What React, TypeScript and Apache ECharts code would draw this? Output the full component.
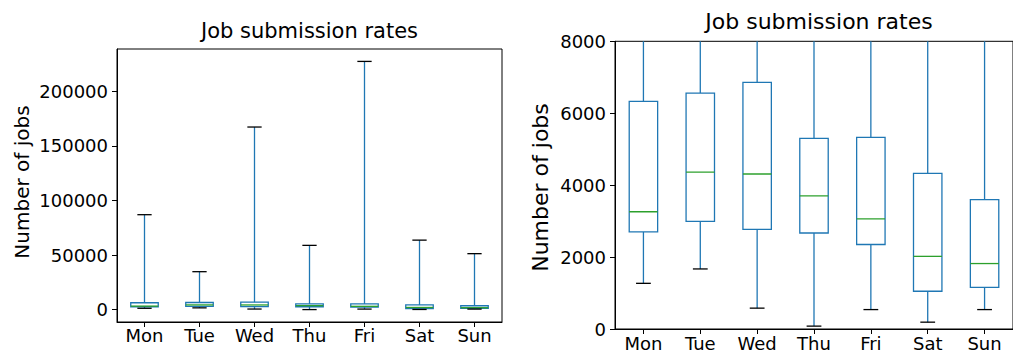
import React, { useEffect, useRef } from "react";
import * as echarts from "echarts";

const categories = ["Mon", "Tue", "Wed", "Thu", "Fri", "Sat", "Sun"];
const lowWhisker = [1270, 1670, 580, 80, 540, 190, 540];
const q1 = [2700, 2990, 2770, 2670, 2350, 1050, 1160];
const median = [3260, 4360, 4310, 3700, 3060, 2020, 1820];
const q3 = [6330, 6560, 6860, 5300, 5330, 4330, 3600];
const highWhisker = [87000, 34800, 167300, 58900, 227400, 63700, 51300];

const leftTicks = [0, 50000, 100000, 150000, 200000];
const rightTicks = [0, 2000, 4000, 6000, 8000];
const title = "Job submission rates";
const yName = "Number of jobs";

const FONT = "'DejaVu Sans', sans-serif";
const BLUE = "#1f77b4";
const GREEN = "#2ca02c";
const LW = 1.3;

function renderBox(params: any, api: any) {
  const idx = api.value(0);
  const lo = api.value(1);
  const a = api.value(2);
  const m = api.value(3);
  const b = api.value(4);
  const hi = api.value(5);
  const band = api.size([1, 0])[0];
  const half = band * 0.25;
  const capHalf = band * 0.13;
  const pLo = api.coord([idx, lo]);
  const pA = api.coord([idx, a]);
  const pM = api.coord([idx, m]);
  const pB = api.coord([idx, b]);
  const pHi = api.coord([idx, hi]);
  const x = pA[0];
  const blue = { stroke: BLUE, lineWidth: LW, fill: null };
  return {
    type: "group",
    children: [
      { type: "line", shape: { x1: x, y1: pB[1], x2: x, y2: pHi[1] }, style: blue },
      { type: "line", shape: { x1: x, y1: pLo[1], x2: x, y2: pA[1] }, style: blue },
      {
        type: "rect",
        shape: { x: x - half, y: pB[1], width: half * 2, height: pA[1] - pB[1] },
        style: { stroke: BLUE, lineWidth: LW, fill: "none" },
      },
      { type: "line", shape: { x1: x - half, y1: pM[1], x2: x + half, y2: pM[1] }, style: { stroke: GREEN, lineWidth: LW } },
      { type: "line", shape: { x1: x - capHalf, y1: pHi[1], x2: x + capHalf, y2: pHi[1] }, style: { stroke: "#000", lineWidth: LW } },
      { type: "line", shape: { x1: x - capHalf, y1: pLo[1], x2: x + capHalf, y2: pLo[1] }, style: { stroke: "#000", lineWidth: LW } },
    ],
  };
}

export default function App() {
  const ref = useRef<HTMLDivElement>(null);
  useEffect(() => {
    if (!ref.current) return;
    const chart = echarts.init(ref.current, null, { renderer: "svg" });
    const data = categories.map((c, i) => [i, lowWhisker[i], q1[i], median[i], q3[i], highWhisker[i]]);
    const xAxisCommon = (gi: number, margin: number) => ({
      type: "category",
      gridIndex: gi,
      data: categories,
      boundaryGap: true,
      axisLine: { show: true, onZero: false, lineStyle: { color: "#000", width: 1 } },
      axisTick: { show: true, alignWithLabel: true, length: 5, lineStyle: { color: "#000" } },
      axisLabel: { color: "#000", fontSize: 18, fontFamily: FONT, margin },
      splitLine: { show: false },
    });
    const fmt = (v: number) => String(v);
    chart.setOption({
      animation: false,
      grid: [
        { left: 117, top: 49, width: 385, height: 273, show: true, borderColor: "#000", borderWidth: 1, backgroundColor: "transparent" },
        { left: 615, top: 41.3, width: 408, height: 287.7, show: true, borderColor: "#000", borderWidth: 1, backgroundColor: "transparent" },
      ],
      xAxis: [xAxisCommon(0, 4), xAxisCommon(1, 5)],
      yAxis: [
        {
          type: "value",
          gridIndex: 0,
          min: -11290,
          max: 238770,
          axisLine: { show: true, onZero: false, lineStyle: { color: "#000" } },
          axisTick: { show: true, length: 5, lineStyle: { color: "#000" }, customValues: leftTicks },
          axisLabel: { color: "#000", fontSize: 18, fontFamily: FONT, margin: 9, customValues: leftTicks, formatter: fmt },
          splitLine: { show: false },
        },
        {
          type: "value",
          gridIndex: 1,
          min: 0,
          max: 8000,
          interval: 2000,
          axisLine: { show: true, onZero: false, lineStyle: { color: "#000" } },
          axisTick: { show: true, length: 5, lineStyle: { color: "#000" } },
          axisLabel: { color: "#000", fontSize: 18, fontFamily: FONT, margin: 9, customValues: rightTicks, formatter: fmt },
          splitLine: { show: false },
        },
      ],
      series: [
        { type: "custom", xAxisIndex: 0, yAxisIndex: 0, data, renderItem: renderBox, clip: true, encode: { x: 0, y: [1, 2, 3, 4, 5] } },
        { type: "custom", xAxisIndex: 1, yAxisIndex: 1, data, renderItem: renderBox, clip: true, encode: { x: 0, y: [1, 2, 3, 4, 5] } },
      ],
      graphic: [
        { type: "text", x: 309.5, y: 31, style: { text: title, font: `21px ${FONT}`, fill: "#000", textAlign: "center", textVerticalAlign: "middle" } },
        { type: "text", x: 819, y: 21, style: { text: title, font: `22px ${FONT}`, fill: "#000", textAlign: "center", textVerticalAlign: "middle" } },
        { type: "text", x: 21.5, y: 182, rotation: Math.PI / 2, style: { text: yName, font: `20px ${FONT}`, fill: "#000", textAlign: "center", textVerticalAlign: "middle" } },
        { type: "text", x: 540.5, y: 187.5, rotation: Math.PI / 2, style: { text: yName, font: `22px ${FONT}`, fill: "#000", textAlign: "center", textVerticalAlign: "middle" } },
      ],
    });
    return () => chart.dispose();
  }, []);
  return <div ref={ref} style={{ position: "fixed", left: 0, top: 0, width: 1013, height: 354, background: "#fff" }} />;
}
